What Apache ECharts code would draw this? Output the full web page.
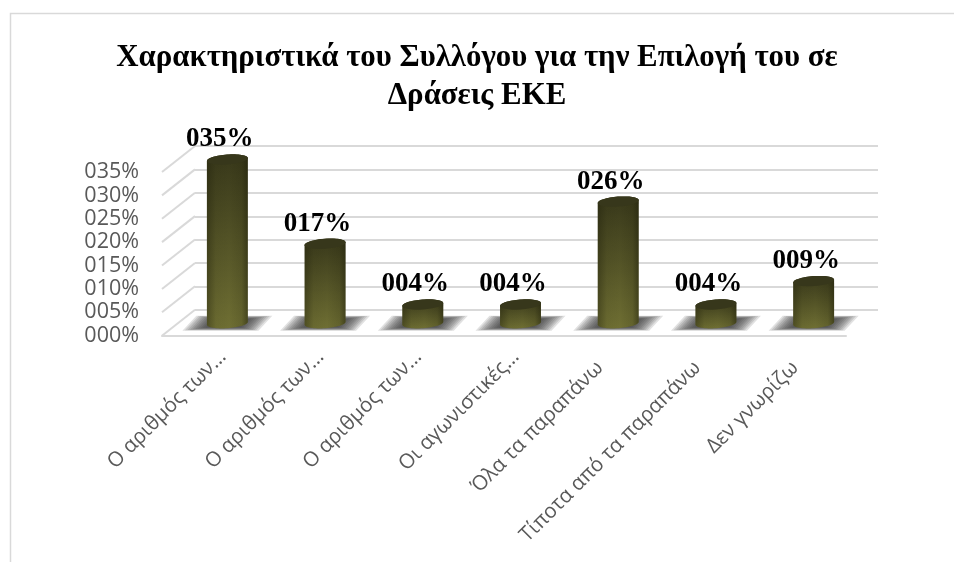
<!DOCTYPE html>
<html>
<head>
<meta charset="utf-8">
<style>html,body{margin:0;padding:0;background:#fff}#chart{width:954px;height:562px}</style>
<script src="https://cdn.jsdelivr.net/npm/echarts@6/dist/echarts.min.js"></script>
</head>
<body>
<div id="chart"></div>
<script>
// Survey results: club characteristics considered for CSR actions
const titleLines = ['Χαρακτηριστικά του Συλλόγου για την Επιλογή του σε', 'Δράσεις ΕΚΕ'];
const categories = ['Ο αριθμός των…', 'Ο αριθμός των…', 'Ο αριθμός των…', 'Οι αγωνιστικές…', 'Όλα τα παραπάνω', 'Τίποτα από τα παραπάνω', 'Δεν γνωρίζω'];
const shares = [35, 17, 4, 4, 26, 4, 9];
const axisTicks = [0, 5, 10, 15, 20, 25, 30, 35];

// Pseudo-3D depth of the floor, in pixels
const depthX = 33, depthY = 26;
const radiusX = 20.5, radiusY = 5, tilt = 0.075;
const gridColor = '#d9d9d9';
const shadowLayers = 16;

const pct = v => String(v).padStart(3, '0') + '%';

// Point on a tilted ellipse around (cx, cy)
function ellipsePoint(cx, cy, t) {
  const x = radiusX * Math.cos(t), y = radiusY * Math.sin(t);
  return [cx + x * Math.cos(tilt) + y * Math.sin(tilt), cy - x * Math.sin(tilt) + y * Math.cos(tilt)];
}
function arc(cx, cy, from, to) {
  const out = [];
  for (let i = 0; i <= 32; i++) out.push(ellipsePoint(cx, cy, from + (to - from) * i / 32));
  return out;
}

// Soft floor shadow: nested translucent parallelograms that fade outwards
function floorShadow(cx, cy) {
  const layers = [];
  for (let i = 0; i < shadowLayers; i++) {
    const s = 1 - i / shadowLayers;
    const k = Math.pow(s, 0.7);
    const w = 36 * s + 2, h = 7.5 * k, skew = 7 * k;
    layers.push({
      type: 'polygon',
      shape: {
        points: [
          [cx - w - skew, cy + h], [cx + w - skew, cy + h],
          [cx + w + skew, cy - h], [cx - w + skew, cy - h]
        ]
      },
      style: { fill: 'rgba(45,45,45,0.14)' }
    });
  }
  return layers;
}

function renderCylinder(params, api) {
  const idx = api.value(0), val = api.value(1);
  const base = api.coord([idx, 0]), top = api.coord([idx, val]);
  const cx = base[0] + depthX / 2;
  const by = base[1] - depthY / 2 + 0.5, ty = top[1] - depthY / 2 + 0.5;
  const outline = arc(cx, by, 0, Math.PI).concat(arc(cx, ty, Math.PI, 2 * Math.PI));
  const vertical = new echarts.graphic.LinearGradient(0, 0, 0, 1, [
    { offset: 0, color: '#38381a' }, { offset: 1, color: '#6f6f33' }
  ]);
  const sides = new echarts.graphic.LinearGradient(0, 0, 1, 0, [
    { offset: 0, color: 'rgba(30,30,10,0.40)' }, { offset: 0.22, color: 'rgba(30,30,10,0.06)' },
    { offset: 0.55, color: 'rgba(30,30,10,0)' }, { offset: 0.85, color: 'rgba(30,30,10,0.14)' },
    { offset: 1, color: 'rgba(30,30,10,0.50)' }
  ]);
  return {
    type: 'group',
    children: floorShadow(cx, by).concat([
      { type: 'polygon', shape: { points: outline }, style: { fill: vertical } },
      { type: 'polygon', shape: { points: outline }, style: { fill: sides } },
      { type: 'polygon', shape: { points: arc(cx, ty, 0, 2 * Math.PI) }, style: { fill: '#37371b' } },
      {
        type: 'text',
        style: {
          text: pct(val), x: cx - 7.5, y: ty - 20, align: 'center', verticalAlign: 'middle',
          font: 'bold 27px "Liberation Serif"', fill: '#000'
        }
      }
    ])
  };
}

// Receding wall lines joining each front tick to its gridline at the back
function renderWallLine(params, api) {
  const y = api.coord([0, api.value(1)])[1];
  const x = params.coordSys.x;
  return {
    type: 'line',
    shape: { x1: x, y1: y, x2: x + depthX, y2: y - depthY },
    style: { stroke: gridColor, lineWidth: 2 }
  };
}

// Slanted category labels; truncated ones reach further up along the slant
function renderCategoryLabel(params, api) {
  const idx = api.value(0);
  const tick = api.coord([idx, 0]);
  const text = categories[idx];
  const truncated = text.endsWith('…');
  return {
    type: 'text',
    x: tick[0] + (truncated ? 12 : -2),
    y: tick[1] + (truncated ? 18 : 29),
    rotation: Math.PI / 4,
    style: {
      text, align: 'right', verticalAlign: 'middle',
      font: '20.5px "Open Sans"', fill: '#595959'
    }
  };
}

const yRange = { type: 'value', min: 0, max: 35, interval: 5 };
const chart = echarts.init(document.getElementById('chart'), null, { renderer: 'canvas' });
chart.setOption({
  animation: false,
  backgroundColor: '#fff',
  title: {
    text: titleLines.join('\n'), left: 472, top: 34, textAlign: 'center',
    textStyle: { fontFamily: 'Liberation Serif', fontWeight: 'bold', fontSize: 30.85, lineHeight: 38, color: '#000' }
  },
  graphic: [{
    type: 'polyline', silent: true,
    shape: { points: [[10.5, 562], [10.5, 13.5], [954, 13.5]] },
    style: { stroke: gridColor, lineWidth: 1.5, fill: null }
  }],
  grid: [
    { left: 162, right: 108, top: 172, height: 163.7 },
    { left: 195, right: 76, top: 146, height: 164 }
  ],
  xAxis: [
    {
      type: 'category', gridIndex: 0, data: categories,
      axisLine: { lineStyle: { color: gridColor, width: 2 } }, axisTick: { show: false },
      axisLabel: { show: false }
    },
    { type: 'category', gridIndex: 1, data: categories, show: false }
  ],
  yAxis: [
    {
      ...yRange, gridIndex: 0, splitLine: { show: false }, axisLine: { show: false }, axisTick: { show: false },
      axisLabel: { formatter: pct, margin: 23, fontFamily: 'Open Sans', fontSize: 21.5, color: '#595959' }
    },
    {
      ...yRange, gridIndex: 1, axisLine: { show: false }, axisTick: { show: false }, axisLabel: { show: false },
      splitLine: { lineStyle: { color: gridColor, width: 2 } }
    }
  ],
  series: [
    {
      type: 'custom', xAxisIndex: 0, yAxisIndex: 0, clip: false, silent: true, z: 1,
      data: axisTicks.map(v => [0, v]), encode: { x: 0, y: 1 }, renderItem: renderWallLine
    },
    {
      type: 'custom', xAxisIndex: 0, yAxisIndex: 0, clip: false, silent: true, z: 2,
      data: categories.map((c, i) => [i, 0]), encode: { x: 0, y: 1 }, renderItem: renderCategoryLabel
    },
    {
      type: 'custom', xAxisIndex: 0, yAxisIndex: 0, clip: false, silent: true, z: 3,
      data: shares.map((v, i) => [i, v]), encode: { x: 0, y: 1 }, renderItem: renderCylinder
    }
  ]
});
</script>
</body>
</html>
